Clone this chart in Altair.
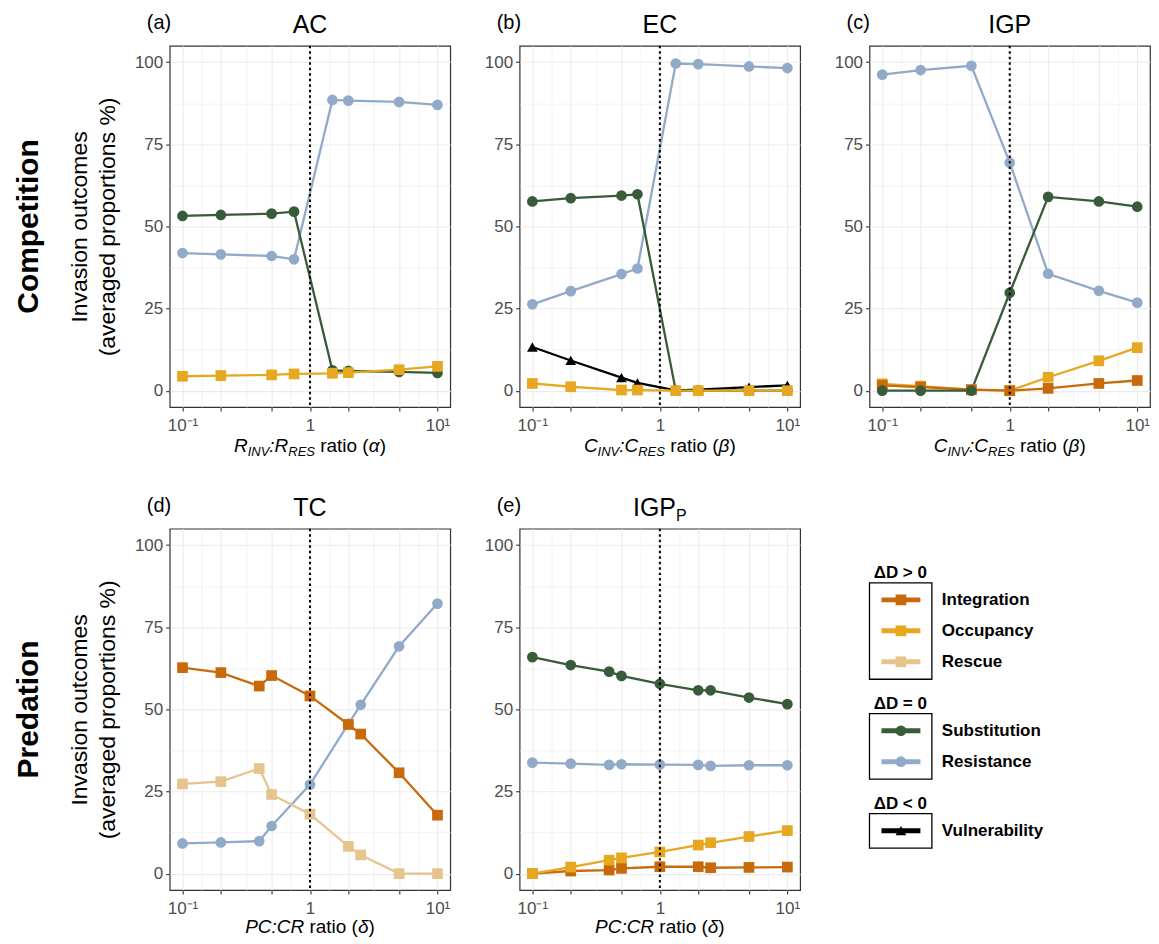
import altair as alt
import pandas as pd

FONT = "Liberation Sans"

# ---------------- data ----------------
outcomes = ["Integration", "Occupancy", "Rescue", "Substitution", "Resistance", "Vulnerability"]
outcome_colors = ["#C86A0C", "#E6A821", "#E6C48E", "#385B3A", "#91AAC8", "#000000"]
outcome_shapes = ["square", "square", "square", "circle", "circle", "triangle-up"]

legend_titles = ["ΔD > 0", "ΔD = 0", "ΔD < 0"]
legend_members = [["Integration", "Occupancy", "Rescue"],
                  ["Substitution", "Resistance"],
                  ["Vulnerability"]]

panel_tags = ["(a)", "(b)", "(c)", "(d)", "(e)"]
row_labels = ["Competition", "Predation"]
y_title = ["Invasion outcomes", "(averaged proportions %)"]

x_major_ticks = [0.1, 0.2, 0.5, 1, 2, 5, 10]
x_label_expr = "datum.value === 0.1 ? '10\u207b\u00b9' : datum.value === 1 ? '1' : datum.value === 10 ? '10\u00b9' : ''"
y_major_ticks = [0, 25, 50, 75, 100]
threshold_ratio = [1]

# (a) AC
ac_x = [0.1, 0.2, 0.5, 0.75, 1.5, 2, 5, 10]
ac_resistance = [41.9, 41.5, 41.0, 40.0, 88.5, 88.3, 87.9, 87.0]
ac_substitution = [53.2, 53.5, 53.9, 54.5, 6.2, 6.0, 5.7, 5.4]
ac_occupancy = [4.4, 4.6, 4.8, 5.1, 5.3, 5.5, 6.4, 7.4]

# (b) EC
ec_x = [0.1, 0.2, 0.5, 0.667, 1.333, 2, 5, 10]
ec_resistance = [26.3, 30.3, 35.5, 37.2, 99.6, 99.4, 98.7, 98.2]
ec_substitution = [57.6, 58.6, 59.4, 59.8, 0.0, 0.0, 0.0, 0.0]
ec_vulnerability = [13.3, 9.2, 4.0, 2.4, 0.1, 0.3, 1.1, 1.6]
ec_occupancy = [2.2, 1.2, 0.2, 0.2, 0.0, 0.0, 0.0, 0.0]

# (c) IGP
igp_x = [0.1, 0.2, 0.5, 1, 2, 5, 10]
igp_resistance = [96.2, 97.6, 98.9, 69.4, 35.6, 30.4, 26.8]
igp_occupancy = [2.1, 1.4, 0.3, 0.0, 4.1, 9.1, 13.1]
igp_integration = [1.6, 1.1, 0.3, 0.0, 0.7, 2.2, 3.1]
igp_substitution = [0.0, 0.0, 0.0, 29.8, 59.0, 57.6, 56.0]

# (d) TC
tc_x = [0.1, 0.2, 0.4, 0.5, 1, 2, 2.5, 5, 10]
tc_resistance = [9.2, 9.5, 9.9, 14.5, 27.1, 45.6, 51.4, 69.2, 82.2]
tc_rescue = [27.3, 28.0, 32.0, 24.1, 18.1, 8.3, 5.7, 0.0, 0.0]
tc_integration = [62.7, 61.2, 57.1, 60.3, 54.1, 45.4, 42.5, 30.7, 17.8]

# (e) IGP_P
igpp_x = [0.1, 0.2, 0.4, 0.5, 1, 2, 2.5, 5, 10]
igpp_resistance = [33.8, 33.5, 33.1, 33.3, 33.2, 33.1, 32.8, 33.0, 33.0]
igpp_substitution = [65.9, 63.5, 61.5, 60.2, 57.8, 55.8, 55.8, 53.6, 51.6]
igpp_integration = [0.0, 0.8, 1.1, 1.6, 2.1, 2.1, 1.8, 1.9, 2.0]
igpp_occupancy = [0.0, 2.0, 4.1, 4.8, 6.6, 8.7, 9.4, 11.3, 13.1]

# ---------------- layout / style ----------------
W, H = 281, 362

AW = {"R": 722, "I": 278, "N": 722, "V": 667, "E": 667, "S": 667, "C": 722, "P": 667,
      "G": 778, "A": 667, "T": 611, ":": 278, " ": 278, "r": 333, "a": 556, "t": 278,
      "i": 222, "o": 556, "(": 333, ")": 333, "α": 578, "β": 575, "δ": 556}


def tw(s, size):
    return sum(AW.get(c, 556) for c in s) * size / 1000.0


def piece_layers(pieces, center_x, base_y):
    total = sum(tw(t, s) for t, s, _, _ in pieces)
    x0 = center_x - total / 2.0
    out = []
    for t, s, style, dy in pieces:
        if t.strip():
            out.append(
                alt.Chart(pd.DataFrame({"t": [t]}))
                .mark_text(align="left", baseline="alphabetic", fontSize=s,
                           fontStyle=style, font=FONT, color="black")
                .encode(x=alt.value(x0), y=alt.value(base_y + dy), text="t:N")
            )
        x0 += tw(t, s)
    return out


def single_text(t, x, y, **kw):
    return (alt.Chart(pd.DataFrame({"t": [t]}))
            .mark_text(font=FONT, color="black", **kw)
            .encode(x=alt.value(x), y=alt.value(y), text="t:N"))


xscale = alt.Scale(type="log", domain=[10 ** -1.1, 10 ** 1.1], nice=False)
yscale = alt.Scale(domain=[-5, 105], nice=False, zero=False)

x_minor = [(a * b) ** 0.5 for a, b in zip(x_major_ticks[:-1], x_major_ticks[1:])]
x_all = sorted(x_major_ticks + x_minor)
major_test_x = "indexof([" + ",".join(str(v) for v in x_major_ticks) + "], datum.value) >= 0"

x_axis = alt.Axis(
    values=x_all, labelExpr=x_label_expr, labelOverlap=False, labelFlush=False, title=None,
    labelPadding=6,
    tickOpacity={"condition": {"test": major_test_x, "value": 1}, "value": 0},
    gridWidth={"condition": {"test": major_test_x, "value": 1.1}, "value": 0.6},
)

y_all = sorted(y_major_ticks + [v + 12.5 for v in y_major_ticks[:-1]])
major_test_y = "datum.value % 25 === 0"


def y_axis(with_title):
    kw = dict(
        values=y_all, labelExpr="datum.value % 25 === 0 ? datum.label : ''", labelOverlap=False,
        tickOpacity={"condition": {"test": major_test_y, "value": 1}, "value": 0},
        gridWidth={"condition": {"test": major_test_y, "value": 1.1}, "value": 0.6},
    )
    if with_title:
        kw.update(title=y_title, titleFontSize=23, titleFontWeight="normal", titleColor="black",
                  titlePadding=15, titleLineHeight=28, titleFont=FONT)
    else:
        kw.update(title=None)
    return alt.Axis(**kw)


color_enc = alt.Color("outcome:N", scale=alt.Scale(domain=outcomes, range=outcome_colors), legend=None)
shape_enc = alt.Shape("outcome:N", scale=alt.Scale(domain=outcomes, range=outcome_shapes), legend=None)


def make_df(xs, series):
    rows = []
    for name, vals in series:
        for xv, v in zip(xs, vals):
            rows.append({"x": xv, "value": v, "outcome": name})
    return pd.DataFrame(rows)


def panel(tag, title_pieces, xs, series, xtitle_pieces, xtitle_dy, with_ytitle, row_label=None):
    df = make_df(xs, series)
    x = alt.X("x:Q", scale=xscale, axis=x_axis)
    y = alt.Y("value:Q", scale=yscale, axis=y_axis(with_ytitle))
    base = alt.Chart(df)
    lines = base.mark_line(strokeWidth=2.3).encode(x=x, y=y, color=color_enc, detail="outcome:N")
    pts = base.mark_point(filled=True, opacity=1, strokeWidth=0).encode(
        x=x, y=y, color=color_enc, shape=shape_enc,
        size=alt.Size("outcome:O", scale=alt.Scale(domain=outcomes, range=[115, 115, 115, 80, 80, 95]),
                      legend=None),
    )
    rule = (alt.Chart(pd.DataFrame({"x": threshold_ratio}))
            .mark_rule(color="black", strokeWidth=2, strokeDash=[2.5, 3])
            .encode(x=alt.X("x:Q", scale=xscale, axis=x_axis)))
    layers = [lines, pts, rule]
    layers.append(single_text(tag, -23, -16.5, fontSize=20, align="left", baseline="alphabetic"))
    layers += piece_layers(title_pieces, W / 2.0, -12.5)
    layers += piece_layers(xtitle_pieces, W / 2.0, H + xtitle_dy)
    if row_label:
        layers.append(single_text(row_label, -141, H / 2.0, fontSize=30, fontWeight="bold",
                                  angle=270, align="center", baseline="middle"))
    return alt.layer(*layers).properties(width=W, height=H)


alpha_title = [("R", 19, "italic", 0), ("INV", 13, "italic", 4), (":", 19, "italic", 0),
               ("R", 19, "italic", 0), ("RES", 13, "italic", 4), (" ", 19, "normal", 0),
               ("ratio (", 19, "normal", 0), ("α", 19, "italic", 0), (")", 19, "normal", 0)]
beta_title = [("C", 19, "italic", 0), ("INV", 13, "italic", 4), (":", 19, "italic", 0),
              ("C", 19, "italic", 0), ("RES", 13, "italic", 4), (" ", 19, "normal", 0),
              ("ratio (", 19, "normal", 0), ("β", 19, "italic", 0), (")", 19, "normal", 0)]
delta_title = [("PC:CR", 19, "italic", 0), (" ", 19, "normal", 0),
               ("ratio (", 19, "normal", 0), ("δ", 19, "italic", 0), (")", 19, "normal", 0)]

pa = panel(panel_tags[0], [("AC", 25, "normal", 0)], ac_x,
           [("Resistance", ac_resistance), ("Substitution", ac_substitution), ("Occupancy", ac_occupancy)],
           alpha_title, 45, True, row_labels[0])
pb = panel(panel_tags[1], [("EC", 25, "normal", 0)], ec_x,
           [("Resistance", ec_resistance), ("Substitution", ec_substitution),
            ("Vulnerability", ec_vulnerability), ("Occupancy", ec_occupancy)],
           beta_title, 45, False)
pc = panel(panel_tags[2], [("IGP", 25, "normal", 0)], igp_x,
           [("Resistance", igp_resistance), ("Occupancy", igp_occupancy),
            ("Integration", igp_integration), ("Substitution", igp_substitution)],
           beta_title, 45, False)
pdd = panel(panel_tags[3], [("TC", 25, "normal", 0)], tc_x,
            [("Resistance", tc_resistance), ("Rescue", tc_rescue), ("Integration", tc_integration)],
            delta_title, 43, True, row_labels[1])
pe = panel(panel_tags[4], [("IGP", 25, "normal", 0), ("P", 16, "normal", 5)], igpp_x,
           [("Resistance", igpp_resistance), ("Substitution", igpp_substitution),
            ("Integration", igpp_integration), ("Occupancy", igpp_occupancy)],
           delta_title, 43, False)

# ---------------- legend panel ----------------
leg_rows, leg_heads, leg_boxes = [], [], []
ty = 44.7
for head, members in zip(legend_titles, legend_members):
    leg_heads.append({"label": head, "y": ty})
    ys = [ty + 26.6 + 31 * k for k in range(len(members))]
    leg_rows += [{"outcome": m, "y": yy} for m, yy in zip(members, ys)]
    leg_boxes.append({"y": ty + 9.5, "y2": ys[-1] + 17.5})
    ty = ys[-1] + 17.5 + 25

ly = alt.Y("y:Q", scale=None, axis=None)
rows_df = pd.DataFrame(leg_rows)
leg_box = (alt.Chart(pd.DataFrame(leg_boxes))
           .mark_rect(fill="white", stroke="black", strokeWidth=1.3)
           .encode(x=alt.value(0), x2=alt.value(62.5), y=ly, y2="y2:Q"))
leg_line = (alt.Chart(rows_df).mark_rule(strokeWidth=5)
            .encode(x=alt.value(12), x2=alt.value(51), y=ly, color=color_enc))
leg_pt = (alt.Chart(rows_df).mark_point(filled=True, opacity=1, strokeWidth=0)
          .encode(x=alt.value(31.5), y=ly, color=color_enc, shape=shape_enc,
                  size=alt.Size("outcome:O", scale=alt.Scale(domain=outcomes,
                                                             range=[196, 196, 196, 160, 160, 170]),
                                legend=None)))
leg_lab = (alt.Chart(rows_df)
           .mark_text(align="left", baseline="middle", fontSize=17, fontWeight="bold", font=FONT,
                      color="black")
           .encode(x=alt.value(72.5), y=ly, text="outcome:N"))
leg_head = (alt.Chart(pd.DataFrame(leg_heads))
            .mark_text(align="left", baseline="middle", fontSize=17, fontWeight="bold", font=FONT,
                       color="black")
            .encode(x=alt.value(4.2), y=ly, text="label:N"))
legend_panel = alt.layer(leg_box, leg_line, leg_pt, leg_lab, leg_head).properties(
    width=W, height=H, view=alt.ViewBackground(stroke="transparent"))

chart = (
    alt.concat(pa, pb, pc, pdd, pe, legend_panel, columns=3,
               spacing={"row": 121.8, "column": 69.5}, bounds="flush")
    .properties(padding={"left": 5, "top": 3, "right": 0, "bottom": 0})
    .configure(font=FONT)
    .configure_view(stroke="#333333", strokeWidth=1.2)
    .configure_axis(domain=False, grid=True, gridColor="#EBEBEB", labelFontSize=17,
                    labelColor="#4D4D4D", labelFont=FONT, tickColor="#333333", tickSize=4,
                    tickWidth=1.1, labelPadding=3)
)

chart.save("out.html", embed_options={"renderer": "svg", "actions": False})
